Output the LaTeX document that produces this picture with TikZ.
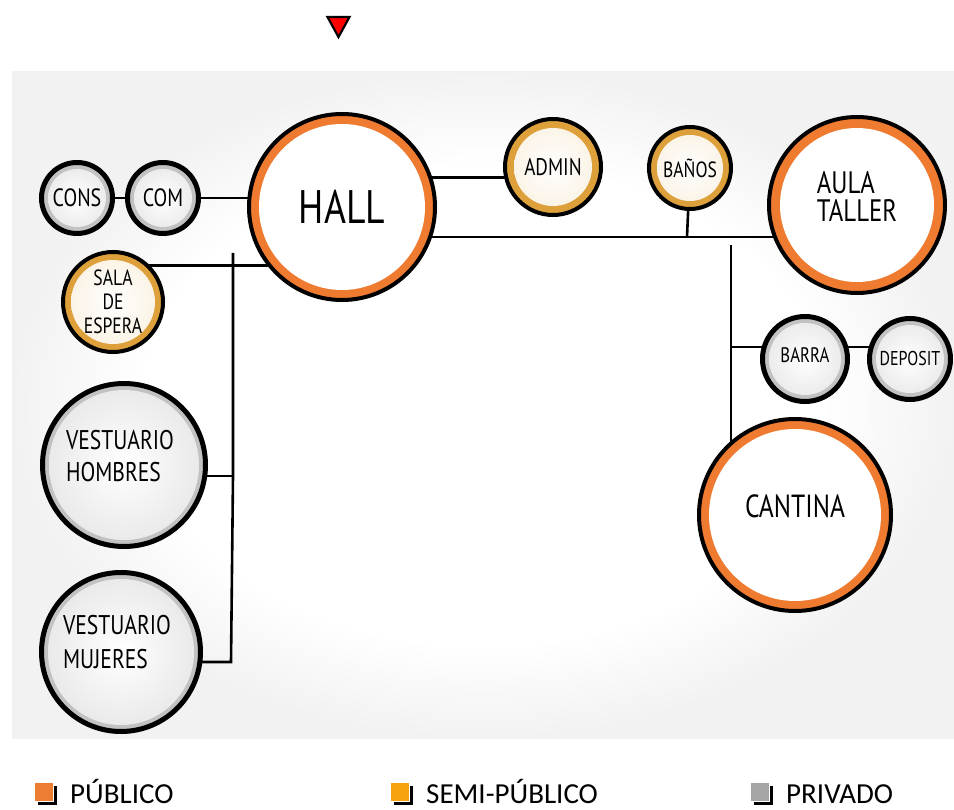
\documentclass[tikz,border=0pt]{standalone}
\usepackage{fontspec}
\setmainfont{Carlito}
\newfontfamily\handfont[FakeStretch=0.8]{PT Sans}
\usetikzlibrary{calc,shadows}
\pgfdeclarelayer{bg}
\pgfdeclarelayer{lines}
\pgfsetlayers{bg,lines,main}
\definecolor{pubc}{HTML}{EE7B30}
\definecolor{semic}{HTML}{DDA03A}
\definecolor{privc}{HTML}{C2C2C2}
\definecolor{legpub}{HTML}{ED7D31}
\definecolor{legsemi}{HTML}{F5A30F}
\definecolor{legpriv}{HTML}{A5A5A5}
\definecolor{vig}{HTML}{F2F2F2}
\pgfdeclareradialshading{vignette}{\pgfpoint{0bp}{0bp}}{color(0bp)=(white); color(18bp)=(white); color(25bp)=(vig); color(50bp)=(vig)}
\tikzset{
  fs/.style 2 args={font=\handfont\fontsize{#1}{#2}\selectfont},
  room/.style={circle, inner sep=0pt, draw=black, align=center, text=black},
  pubroom/.style 2 args={room, minimum size=#1pt, line width=4pt, fill=pubc,
    path picture={\fill[white] (path picture bounding box.center) circle[radius=#2pt];}},
  semiroom/.style 2 args={room, minimum size=#1pt, line width=4pt, fill=semic,
    path picture={\shade[inner color=white, outer color=white!85!semic] (path picture bounding box.center) circle[radius=#2pt];}},
  privroom/.style 2 args={room, minimum size=#1pt, line width=5pt, fill=privc,
    path picture={\shade[inner color=white, outer color=gray!18] (path picture bounding box.center) circle[radius=#2pt];}},
  link/.style={draw=black, line width=2.6pt},
  legbox/.style={rectangle, inner sep=0pt, minimum size=19pt, draw=white, line width=0.8pt,
    drop shadow={opacity=1, fill=black, shadow xshift=3pt, shadow yshift=-3pt}},
  legtext/.style={anchor=base west, inner sep=0pt, font=\fontsize{29}{32}\selectfont}
}
\begin{document}
\begin{tikzpicture}[x=1pt, y=-1pt]
\useasboundingbox (0,0) rectangle (954,810);
\begin{pgfonlayer}{bg}
  \fill[white] (0,0) rectangle (954,810);
  \shade[shading=vignette] (12,72) rectangle (954,738);
\end{pgfonlayer}

% marker
\draw[fill=red, line width=2.2pt, line join=miter] (327.5,17) -- (349.5,17) -- (338.5,37) -- cycle;

% rooms
\node[privroom={71}{29}, fs={25}{27}] (cons) at (77,198) {CONS};
\node[privroom={71}{29}, fs={25}{27}] (com) at (163,198) {COM};
\node[pubroom={186}{83}, fs={47}{50}] (hall) at (342,207) {HALL};
\node[semiroom={96}{39}, fs={24}{26}] (admin) at (553,167) {ADMIN};
\node[semiroom={82}{33}, fs={22}{24}] (banos) at (690,168) {BAÑOS};
\node[pubroom={176}{77},
  label={[name=aulat, fs={31}{28}, align=left, yshift=9pt]center:AULA\\TALLER}] (aula) at (857,205) {};
\node[semiroom={100}{42}, fs={22}{24}] (sala) at (113,302) {SALA\\DE\\ESPERA};
\node[privroom={163}{75},
  label={[name=hombrest, fs={27}{32}, align=left, yshift=9pt, xshift=-4pt]center:VESTUARIO\\HOMBRES}] (hombres) at (124,465) {};
\node[privroom={159}{73},
  label={[name=mujerest, fs={27}{34}, align=left, yshift=10pt, xshift=-4pt]center:VESTUARIO\\MUJERES}] (mujeres) at (121,652) {};
\node[privroom={85}{36},
  label={[name=barrat, fs={21}{23}, yshift=4pt]center:BARRA}] (barra) at (805,359) {};
\node[privroom={81}{34}, fs={20}{22}] (deposit) at (910,359) {DEPOSIT};
\node[pubroom={192}{86},
  label={[name=cantinat, fs={32}{34}, yshift=9pt]center:CANTINA}] (cantina) at (795,515) {};

% junctions
\coordinate (jb) at (687,237);
\coordinate (lt) at (233,253);
\coordinate (jh) at (233,476);
\coordinate (lb) at (231,662);
\coordinate (rt) at (731,245);
\coordinate (jr) at (731,347);

\begin{pgfonlayer}{lines}
  \draw[link] (cons) -- (com);
  \draw[link] (com) -- (hall.center |- com.center);
  \draw[link] (hall.center |- admin.192) -- (admin.center |- admin.192);
  \draw[link] (hall.center |- jb) -- (aula.center |- jb);
  \draw[link] (banos) -- (jb);
  \draw[link] (sala.center |- sala.45) -- (hall.center |- sala.45);
  \draw[link] (lt) -- (jh) -- (lb) -- (mujeres.center |- lb);
  \draw[link] (jh) -- (hombres.center |- jh);
  \draw[link] (rt) -- (rt |- cantina.center);
  \draw[link] (jr) -- (deposit.center |- jr);
\end{pgfonlayer}

% legend
\node[legbox, fill=legpub] (ipub) at (44,792) {};
\node[legtext] (tpub) at (70,803) {PÚBLICO};
\node[legbox, fill=legsemi] (isemi) at (400,792) {};
\node[legtext] (tsemi) at (426,803) {SEMI-PÚBLICO};
\node[legbox, fill=legpriv] (ipriv) at (760,792) {};
\node[legtext] (tpriv) at (786,803) {PRIVADO};
\end{tikzpicture}
\end{document}
